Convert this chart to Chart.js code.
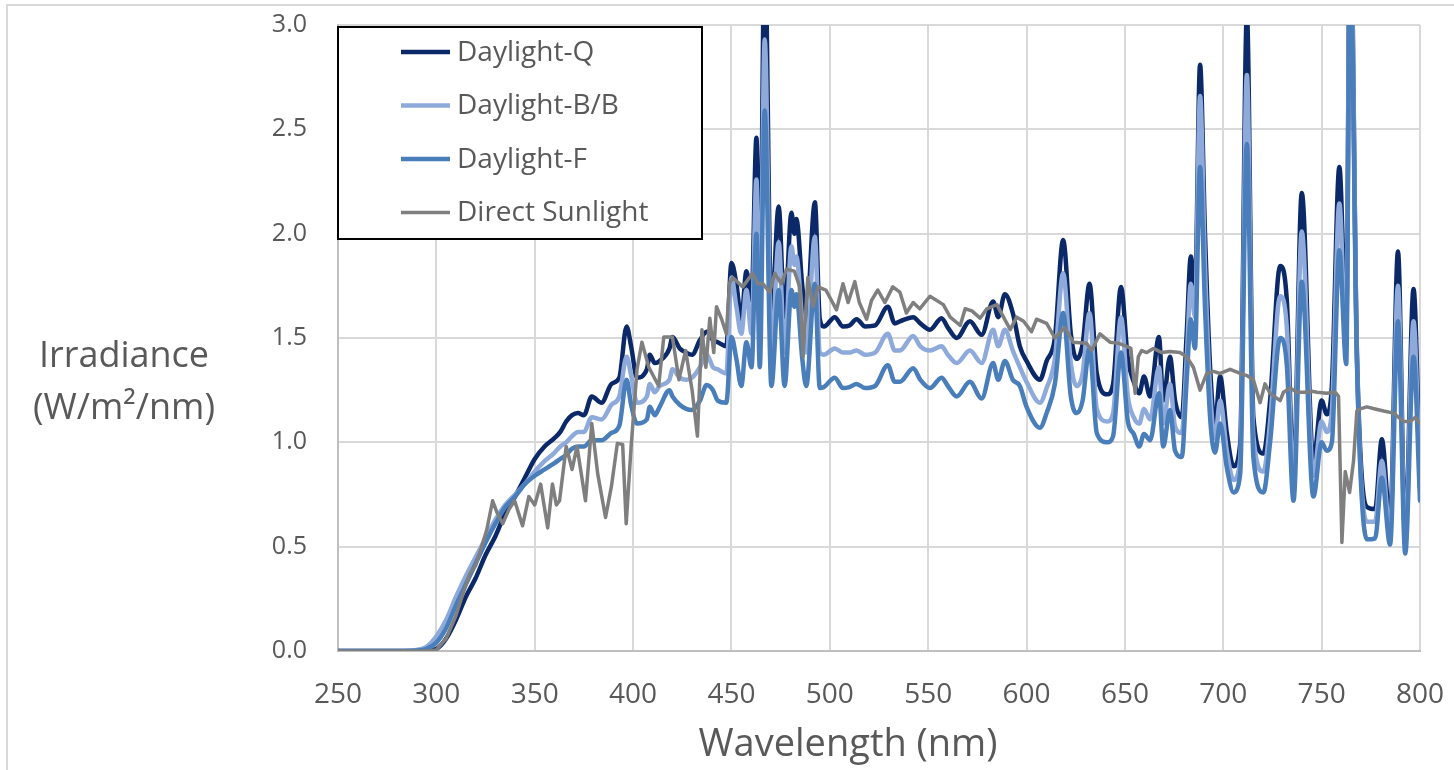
<!DOCTYPE html>
<html>
<head>
<meta charset="utf-8">
<script src="https://cdn.jsdelivr.net/npm/chart.js@4.4.1/dist/chart.umd.min.js"></script>
<style>
  html, body { margin: 0; padding: 0; background: #fff; }
  #wrap { position: relative; width: 1454px; height: 770px; }
</style>
</head>
<body>
<div id="wrap"><canvas id="spectrumChart"></canvas></div>
<script>
// wavelength samples shared by the three daylight lamps (nm)
const lampWavelengths = [
  250, 280, 290, 295, 300, 305, 310, 315, 320, 325, 330, 335, 340, 345, 350, 355, 360, 363, 366, 369,
  372, 375, 379, 384, 389, 393, 396.7, 399, 402, 407, 408.5, 411, 413.5, 418.5, 420, 423.7, 427, 430, 434, 437.4,
  440.6, 443, 447.4, 450, 452.5, 455, 457.6, 460.2, 462.7, 464.4, 466.9, 470.3, 474, 477, 480.5, 482, 483, 486, 488, 492.4,
  494.9, 497, 502.5, 506.7, 510, 513.6, 518, 523, 529.5, 533, 535.6, 542.4, 546, 550.9, 556.8, 560, 564.5, 571.2, 577.2, 583,
  585.6, 589, 593, 596.6, 600, 606.8, 610.2, 614.4, 618.6, 622.5, 625.5, 628.5, 632, 635.7, 641, 644, 648, 651.5, 654.5, 657.3,
  659.7, 662.8, 667.3, 669.5, 672.9, 675.5, 678.9, 681.4, 683.5, 685.6, 688.2, 690.7, 693.3, 695.8, 698.4, 701.8, 705.2, 708.6, 712, 715.3,
  720.4, 723.8, 728.9, 732.3, 735.7, 739.9, 745.8, 750, 752.6, 755.2, 759, 762.5, 764.5, 767.9, 773, 777.2, 780.6, 784.8, 788.8, 792.5,
  796.7, 800
];
const daylightQ = [
  0, 0, 0, 0.002, 0.01, 0.06, 0.15, 0.26, 0.35, 0.46, 0.55, 0.66, 0.74, 0.83, 0.92, 0.98, 1.02, 1.05, 1.10, 1.13,
  1.14, 1.13, 1.22, 1.19, 1.28, 1.31, 1.555, 1.46, 1.31, 1.35, 1.42, 1.38, 1.39, 1.45, 1.505, 1.45, 1.43, 1.42, 1.49, 1.53,
  1.49, 1.48, 1.46, 1.86, 1.76, 1.59, 1.82, 1.68, 2.46, 1.68, 3.4, 1.60, 2.13, 1.60, 2.10, 2.0, 2.07, 1.75, 1.59, 2.15,
  1.59, 1.555, 1.60, 1.555, 1.56, 1.59, 1.555, 1.56, 1.65, 1.57, 1.58, 1.60, 1.57, 1.54, 1.595, 1.55, 1.50, 1.58, 1.515, 1.675,
  1.60, 1.71, 1.62, 1.46, 1.39, 1.30, 1.39, 1.50, 1.97, 1.52, 1.40, 1.47, 1.76, 1.33, 1.23, 1.28, 1.745, 1.40, 1.29, 1.235,
  1.315, 1.22, 1.505, 1.20, 1.41, 1.20, 1.12, 1.52, 1.89, 1.71, 2.81, 2.0, 1.36, 1.09, 1.315, 1.045, 0.885, 0.995, 3.05, 1.12,
  0.946, 1.20, 1.845, 1.68, 0.84, 2.195, 0.91, 1.20, 1.135, 1.27, 2.32, 1.55, 3.6, 1.45, 0.69, 0.68, 1.015, 0.62, 1.915, 0.55,
  1.735, 0.84
];
const daylightBB = [
  0, 0, 0.005, 0.02, 0.07, 0.15, 0.26, 0.36, 0.45, 0.54, 0.63, 0.70, 0.75, 0.80, 0.86, 0.91, 0.95, 0.98, 1.00, 1.03,
  1.05, 1.05, 1.12, 1.11, 1.18, 1.22, 1.41, 1.32, 1.19, 1.22, 1.28, 1.24, 1.27, 1.30, 1.35, 1.31, 1.30, 1.31, 1.36, 1.42,
  1.36, 1.35, 1.33, 1.79, 1.65, 1.52, 1.73, 1.52, 2.26, 1.52, 2.93, 1.43, 1.96, 1.43, 1.94, 1.85, 1.89, 1.58, 1.43, 1.985,
  1.43, 1.42, 1.45, 1.43, 1.43, 1.44, 1.42, 1.43, 1.52, 1.44, 1.44, 1.51, 1.46, 1.44, 1.46, 1.42, 1.38, 1.44, 1.38, 1.54,
  1.46, 1.54, 1.44, 1.36, 1.29, 1.19, 1.26, 1.40, 1.81, 1.38, 1.27, 1.33, 1.62, 1.16, 1.10, 1.14, 1.60, 1.22, 1.12, 1.09,
  1.16, 1.11, 1.36, 1.09, 1.28, 1.075, 1.045, 1.40, 1.76, 1.60, 2.66, 1.85, 1.25, 1.02, 1.20, 0.96, 0.82, 0.92, 2.76, 1.03,
  0.86, 1.10, 1.70, 1.55, 0.80, 2.01, 0.84, 1.10, 1.05, 1.15, 2.145, 1.45, 3.6, 1.42, 0.62, 0.62, 0.91, 0.57, 1.75, 0.52,
  1.58, 0.78
];
const daylightF = [
  0, 0, 0.002, 0.01, 0.04, 0.11, 0.22, 0.32, 0.42, 0.52, 0.61, 0.69, 0.74, 0.80, 0.84, 0.87, 0.90, 0.92, 0.94, 0.97,
  0.98, 0.98, 1.01, 1.01, 1.045, 1.08, 1.30, 1.18, 1.09, 1.11, 1.17, 1.13, 1.17, 1.25, 1.22, 1.18, 1.16, 1.155, 1.20, 1.275,
  1.25, 1.20, 1.19, 1.505, 1.40, 1.27, 1.48, 1.36, 2.0, 1.36, 2.59, 1.27, 1.73, 1.27, 1.73, 1.65, 1.71, 1.40, 1.27, 1.76,
  1.26, 1.265, 1.31, 1.26, 1.265, 1.28, 1.26, 1.27, 1.37, 1.29, 1.29, 1.355, 1.30, 1.26, 1.31, 1.27, 1.22, 1.29, 1.21, 1.38,
  1.30, 1.39, 1.30, 1.27, 1.17, 1.07, 1.14, 1.28, 1.62, 1.22, 1.14, 1.20, 1.45, 1.045, 1.0, 1.03, 1.43, 1.10, 1.04, 0.98,
  1.04, 1.01, 1.235, 0.98, 1.155, 0.96, 0.93, 1.30, 1.59, 1.45, 2.32, 1.65, 1.12, 0.95, 1.09, 0.88, 0.76, 0.85, 2.43, 0.93,
  0.76, 1.0, 1.50, 1.37, 0.72, 1.77, 0.74, 1.0, 0.96, 1.0, 1.92, 1.375, 3.4, 1.40, 0.535, 0.54, 0.83, 0.51, 1.58, 0.467,
  1.41, 0.72
];

// direct sunlight spectrum
const sunWavelengths = [
  250, 295, 300, 305, 310, 313, 317, 320, 322, 325.6, 328.6, 331, 333.7, 337, 339.8, 343.8, 347, 350, 353, 356.6,
  359, 361, 362.6, 366, 369, 371.5, 375.8, 379, 382, 386, 389, 392, 394.7, 396.5, 399, 402, 404.5, 408, 413, 415.6,
  420, 423.3, 426.7, 430, 432.7, 435, 437, 439, 441, 442.4, 445, 447.4, 449, 450.6, 455.7, 460.8, 463.4, 465.9, 469.5, 472,
  475.4, 478, 482, 484.7, 486.4, 488.8, 491.5, 494, 498, 503.4, 506.7, 509.3, 512.7, 515, 518.7, 521.2, 524.4, 528, 532, 535.6,
  538.9, 542.4, 545.7, 550.9, 557.7, 561.2, 566.3, 568.8, 572.2, 576.4, 579.8, 584.9, 588.3, 591.7, 595, 598.5, 602.5, 605.1, 610.2, 614.4,
  619.5, 623.7, 630.5, 633.1, 637.3, 642.4, 646.6, 650.9, 653, 655.2, 656.8, 658.5, 661.1, 664.5, 668.7, 672.9, 678, 681.4, 684.8, 688.2,
  691.6, 695, 698.4, 703.5, 708.6, 712, 715.3, 718.7, 721.2, 723.8, 728.9, 730.6, 734, 737.4, 742.5, 745, 747.6, 752.6, 756.9, 758.6,
  760.3, 762, 764.2, 766.2, 767.9, 769.6, 773, 777.2, 781.5, 786.6, 791.6, 795, 797.6, 800
];
const directSunlight = [
  0, 0, 0.005, 0.06, 0.17, 0.26, 0.37, 0.41, 0.47, 0.58, 0.72, 0.66, 0.61, 0.68, 0.72, 0.60, 0.74, 0.70, 0.80, 0.59,
  0.80, 0.70, 0.72, 0.98, 0.87, 0.98, 0.72, 1.09, 0.85, 0.64, 0.79, 0.995, 0.99, 0.61, 0.98, 1.35, 1.48, 1.36, 1.27, 1.505,
  1.505, 1.30, 1.44, 1.25, 1.03, 1.54, 1.36, 1.595, 1.43, 1.65, 1.59, 1.52, 1.76, 1.79, 1.745, 1.81, 1.76, 1.76, 1.72, 1.81,
  1.76, 1.83, 1.82, 1.745, 1.41, 1.79, 1.65, 1.745, 1.73, 1.635, 1.76, 1.67, 1.77, 1.67, 1.59, 1.68, 1.73, 1.67, 1.745, 1.72,
  1.62, 1.67, 1.64, 1.70, 1.66, 1.60, 1.56, 1.64, 1.63, 1.595, 1.64, 1.66, 1.60, 1.54, 1.60, 1.58, 1.53, 1.59, 1.57, 1.50,
  1.55, 1.48, 1.475, 1.44, 1.52, 1.48, 1.475, 1.46, 1.45, 1.235, 1.41, 1.44, 1.43, 1.45, 1.43, 1.435, 1.43, 1.41, 1.36, 1.25,
  1.33, 1.34, 1.33, 1.35, 1.33, 1.32, 1.30, 1.19, 1.28, 1.235, 1.20, 1.24, 1.26, 1.24, 1.24, 1.245, 1.24, 1.235, 1.24, 1.22,
  0.52, 0.86, 0.76, 0.91, 1.15, 1.16, 1.17, 1.16, 1.15, 1.14, 1.10, 1.10, 1.12, 1.09
];

const seriesNames = ["Daylight-Q", "Daylight-B/B", "Daylight-F", "Direct Sunlight"];
const xTicks = { min: 250, max: 800, step: 50 };
const yTicks = { min: 0, max: 3, step: 0.5 };

const TEXT = "#595959";
const GRID = "#d9d9d9";
const FONT = "'Open Sans', 'Noto Sans', sans-serif";

function toPoints(xs, ys) { return xs.map((x, i) => ({ x, y: ys[i] })); }

// frame, axis titles and the boxed legend inside the plot
const decorations = {
  id: "decorations",
  beforeDraw(chart) {
    const { ctx, width, height } = chart;
    ctx.save();
    ctx.strokeStyle = GRID;
    ctx.lineWidth = 2;
    ctx.beginPath();
    ctx.moveTo(7, height);
    ctx.lineTo(7, 5);
    ctx.lineTo(width, 5);
    ctx.stroke();
    ctx.restore();
  },
  afterDatasetsDraw(chart) {
    const { ctx, chartArea } = chart;
    ctx.save();
    const bx = chartArea.left, by = chartArea.top + 2, bw = 364, bh = 212;
    ctx.fillStyle = "#fff";
    ctx.fillRect(bx, by, bw, bh);
    ctx.strokeStyle = "#000";
    ctx.lineWidth = 2;
    ctx.strokeRect(bx, by, bw, bh);
    ctx.font = "28px " + FONT;
    ctx.textBaseline = "middle";
    ctx.textAlign = "left";
    chart.data.datasets.forEach((ds, i) => {
      const cy = by + 25 + i * 53.5;
      ctx.strokeStyle = ds.borderColor;
      ctx.lineWidth = ds.borderWidth;
      ctx.beginPath();
      ctx.moveTo(bx + 63, cy);
      ctx.lineTo(bx + 112, cy);
      ctx.stroke();
      ctx.fillStyle = TEXT;
      ctx.fillText(ds.label, bx + 119, cy + 1);
    });
    ctx.restore();
  },
  afterDraw(chart) {
    const { ctx } = chart;
    ctx.save();
    ctx.fillStyle = TEXT;
    ctx.textAlign = "center";
    ctx.textBaseline = "middle";
    ctx.font = "36px " + FONT;
    ctx.fillText("Irradiance", 124, 357);
    ctx.fillText("(W/m\u00B2/nm)", 124, 409);
    ctx.font = "38px " + FONT;
    ctx.fillText("Wavelength (nm)", 848, 745);
    ctx.restore();
  }
};

const colors = ["#0b2869", "#8eaadb", "#4a7ebb", "#7f7f7f"];
const widths = [4.5, 4.5, 4.5, 3.5];
const values = [daylightQ, daylightBB, daylightF, directSunlight];

new Chart(document.getElementById("spectrumChart"), {
  type: "line",
  data: {
    datasets: seriesNames.map((name, i) => ({
      label: name,
      data: i < 3 ? toPoints(lampWavelengths, values[i]) : toPoints(sunWavelengths, values[i]),
      borderColor: colors[i],
      borderWidth: widths[i],
      borderJoinStyle: "round",
      borderCapStyle: "round",
      pointRadius: 0,
      fill: false,
      cubicInterpolationMode: i < 3 ? "monotone" : "default",
      tension: i < 3 ? 0.4 : 0,
      order: 3 - i,
      clip: 0
    }))
  },
  options: {
    responsive: true,
    maintainAspectRatio: false,
    animation: false,
    events: [],
    layout: { padding: { left: 0, top: 25, right: 34, bottom: 0 } },
    plugins: { legend: { display: false }, tooltip: { enabled: false } },
    scales: {
      x: {
        type: "linear",
        min: xTicks.min, max: xTicks.max,
        afterFit(scale) { scale.height = 119; scale.paddingLeft = 0; scale.paddingRight = 0; },
        ticks: { stepSize: xTicks.step, color: TEXT, padding: 27, font: { family: FONT, size: 28 } },
        grid: { color: GRID, lineWidth: 2, drawTicks: false },
        border: { color: "#bfbfbf", width: 2 }
      },
      y: {
        min: yTicks.min, max: yTicks.max,
        afterFit(scale) { scale.width = 338; scale.paddingTop = 0; scale.paddingBottom = 0; },
        ticks: { stepSize: yTicks.step, color: TEXT, padding: 31, font: { family: FONT, size: 25 },
          callback: (v) => v.toFixed(1) },
        grid: { color: GRID, lineWidth: 2, drawTicks: false },
        border: { color: "#bfbfbf", width: 2 }
      }
    }
  },
  plugins: [decorations]
});
</script>
</body>
</html>
